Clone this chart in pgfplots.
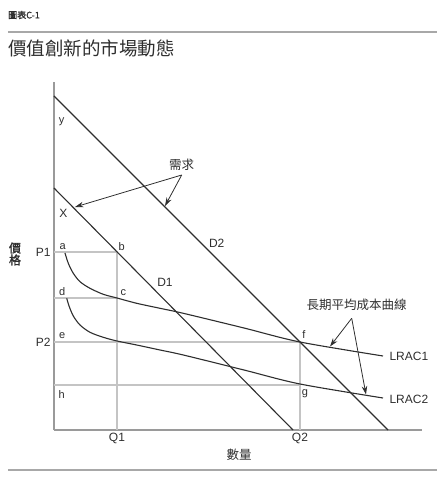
\documentclass[border=0pt]{standalone}
\usepackage{pgfplots}
\pgfplotsset{compat=1.18}
\usepackage{fontspec}
\setmainfont{Liberation Sans}
\newfontfamily\cjk{Noto Sans CJK TC}
\newfontfamily\cjkbold[FakeBold=1.5]{Noto Sans CJK TC}
\usetikzlibrary{arrows.meta}
\definecolor{ink}{HTML}{2E2E2E}
\definecolor{guide}{HTML}{C4C4C4}
\definecolor{axisgray}{HTML}{9A9A9A}
\definecolor{rulegray}{HTML}{A8A8A8}
\newcommand\lab{\fontsize{12}{12}\selectfont}
\newcommand\pt{\fontsize{11}{11}\selectfont}
\newcommand\cjklab{\cjk\fontsize{12.5}{13}\selectfont}
\begin{document}
\begin{tikzpicture}[x=1pt,y=1pt]
\useasboundingbox (-54,-50) rectangle (389,430);
\begin{axis}[
  at={(0,0)}, anchor=south west,
  scale only axis, width=368pt, height=348pt,
  xmin=0, xmax=368, ymin=0, ymax=348,
  axis x line=bottom, axis y line=left,
  axis line style={-, draw=axisgray, line width=1.6pt},
  xtick={63,246}, xticklabels={Q1,Q2},
  ytick={178,88}, yticklabels={P1,P2},
  major tick length=0pt,
  tick label style={font=\lab, text=ink},
  clip=false,
]
% guide lines for prices and quantities
\addplot[guide, line width=1.4pt] coordinates {(0,178) (63,178) (63,0)};
\addplot[guide, line width=1.4pt] coordinates {(0,132) (63,132)};
\addplot[guide, line width=1.4pt] coordinates {(0,88) (246,88) (246,0)};
\addplot[guide, line width=1.4pt] coordinates {(0,45) (246,45)};

% demand curves
\addplot[ink, line width=1.1pt] coordinates {(0,334) (334,0)};
\addplot[ink, line width=1.1pt] coordinates {(0,242) (239,0)};

% long-run average cost curves
\addplot[ink, line width=1.1pt, smooth] coordinates {
  (11,177) (14.3,166.7) (19.3,156.7) (26,148.3) (36,141.7) (49.3,135.7)
  (63,132) (82.7,126.7) (106,121.7) (129.3,116.7) (190,102) (246,88) (329,74)};
\addplot[ink, line width=1.1pt, smooth] coordinates {
  (12.7,131.7) (15.3,123.3) (19.3,114) (26,105) (36,97.7) (49.3,92.7)
  (63,89) (82.7,85) (106,80) (129.3,75) (190,60) (246,46) (329,32)};

% callout arrows
\draw[ink, line width=0.8pt, -{Stealth[length=8.5pt,width=5.5pt]}] (axis cs:127.7,255) -- (axis cs:21,223);
\draw[ink, line width=0.8pt, -{Stealth[length=8.5pt,width=5.5pt]}] (axis cs:127.7,255) -- (axis cs:111,224);
\draw[ink, line width=0.8pt, -{Stealth[length=8.5pt,width=5.5pt]}] (axis cs:297.7,111.7) -- (axis cs:276,83.5);
\draw[ink, line width=0.8pt, -{Stealth[length=8.5pt,width=5.5pt]}] (axis cs:297.7,111.7) -- (axis cs:312,35.5);

% point and curve labels
\node[text=ink, font=\pt] at (axis cs:7.7,308.3) {y};
\node[text=ink, font=\lab] at (axis cs:9.3,216.7) {X};
\node[text=ink, font=\pt] at (axis cs:8.7,183.3) {a};
\node[text=ink, font=\pt] at (axis cs:67.7,183.3) {b};
\node[text=ink, font=\pt] at (axis cs:69.3,137.7) {c};
\node[text=ink, font=\pt] at (axis cs:8.3,138.3) {d};
\node[text=ink, font=\pt] at (axis cs:8.3,94.3) {e};
\node[text=ink, font=\pt] at (axis cs:250,95) {f};
\node[text=ink, font=\pt] at (axis cs:251,36.7) {g};
\node[text=ink, font=\pt] at (axis cs:7.7,35) {h};
\node[text=ink, font=\lab] at (axis cs:162.7,186.7) {D2};
\node[text=ink, font=\lab] at (axis cs:111,147.3) {D1};
\node[text=ink, font=\lab, anchor=west, inner sep=0pt] at (axis cs:335.3,73.3) {LRAC1};
\node[text=ink, font=\lab, anchor=west, inner sep=0pt] at (axis cs:335.3,30.7) {LRAC2};
\node[text=ink, font=\cjklab] at (axis cs:127.7,265.5) {需求};
\node[text=ink, font=\cjklab] at (axis cs:302.7,125) {長期平均成本曲線};

% axis titles
\node[text=ink, font=\cjkbold\fontsize{12}{13}\selectfont, align=center] at (axis cs:-39,176) {價\\[-1pt]格};
\node[text=ink, font=\cjklab] at (axis cs:185,-25) {數量};

% header, title and rules
\node[text=ink, font=\cjkbold\fontsize{9}{9}\selectfont, anchor=west, inner sep=0pt] at (axis cs:-46,415) {圖表C-1};
\draw[rulegray, line width=1.4pt] (axis cs:-46,398) -- (axis cs:383,398);
\node[text=ink, font=\cjk\fontsize{18.5}{19}\selectfont, anchor=west, inner sep=0pt] at (axis cs:-46,382) {價值創新的市場動態};
\draw[rulegray, line width=1.4pt] (axis cs:-46,-40) -- (axis cs:383,-40);
\end{axis}
\end{tikzpicture}
\end{document}
